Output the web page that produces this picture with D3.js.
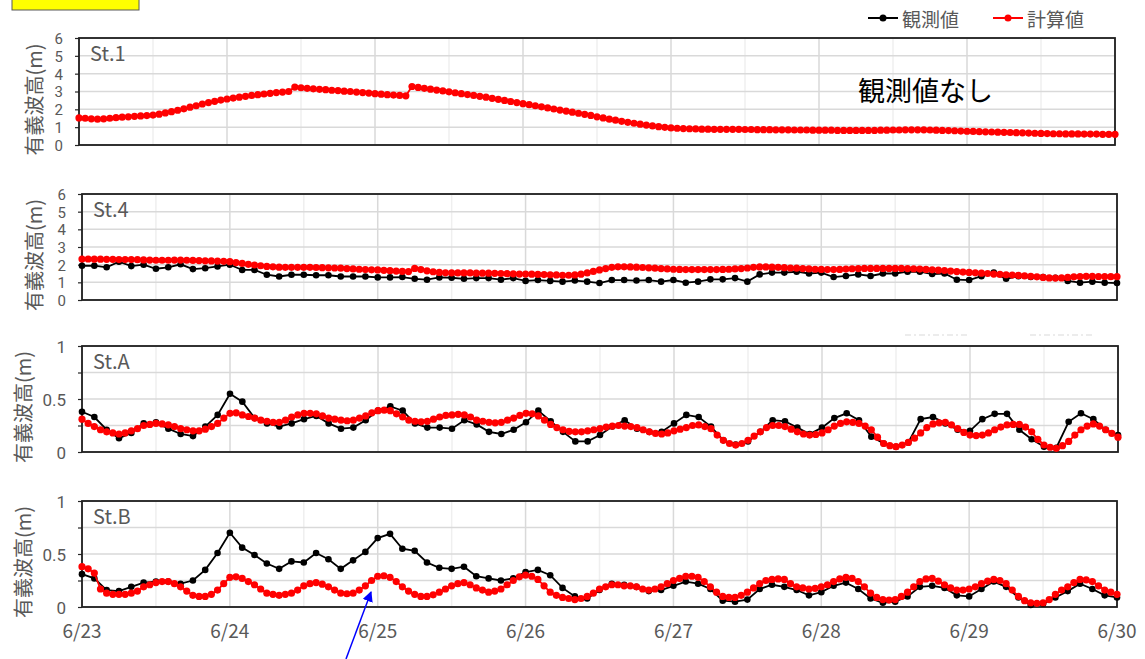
<!DOCTYPE html>
<html><head><meta charset="utf-8">
<script src="https://cdn.jsdelivr.net/npm/d3@7/dist/d3.min.js"></script>
<style>body{margin:0;background:#fff}svg{display:block}text{font-family:"Noto Sans CJK JP","Noto Sans",sans-serif}</style>
</head><body><svg id="c" width="1145" height="659"></svg>
<script>
// ---- data ----
const startTime = new Date(2020, 5, 23, 0, 0);
const endTime = new Date(2020, 5, 30, 0, 0);
const dayTickLabels = ["6/23","6/24","6/25","6/26","6/27","6/28","6/29","6/30"];
const seriesNames = ["観測値","計算値"];
const stationNames = ["St.1","St.4","St.A","St.B"];
const calcStepHours = 1;
const obsStepHours = 2;

const st1Calc = [1.52,1.50,1.47,1.45,1.47,1.50,1.53,1.56,1.58,1.61,1.63,1.65,
1.68,1.73,1.80,1.87,1.95,2.03,2.12,2.20,2.30,2.38,2.45,2.52,
2.58,2.63,2.68,2.73,2.78,2.82,2.86,2.90,2.94,2.97,3.00,3.25,
3.21,3.18,3.15,3.12,3.10,3.07,3.05,3.02,3.00,2.97,2.94,2.91,2.88,2.85,2.82,2.80,2.78,2.76,
3.28,3.23,3.18,3.13,3.08,3.03,2.98,2.93,2.88,2.83,2.78,2.73,2.68,2.62,2.56,2.50,2.44,2.38,
2.32,2.26,2.20,2.14,2.08,2.02,1.96,1.90,1.84,1.78,1.72,1.66,
1.58,1.52,1.45,1.39,1.33,1.27,1.22,1.17,1.12,1.07,1.03,0.99,
0.96,0.94,0.92,0.91,0.90,0.89,0.89,0.88,0.88,0.88,0.88,0.88,
0.87,0.87,0.86,0.86,0.86,0.85,0.85,0.85,0.84,0.84,0.84,0.83,
0.83,0.83,0.83,0.82,0.82,0.82,0.82,0.82,0.82,0.82,0.83,0.83,
0.84,0.84,0.85,0.85,0.85,0.85,0.84,0.83,0.82,0.81,0.80,0.78,
0.77,0.76,0.75,0.74,0.73,0.72,0.71,0.70,0.69,0.68,0.67,0.66,
0.65,0.64,0.63,0.63,0.62,0.62,0.62,0.61,0.61,0.61,0.60,0.60,0.60];

const st4Calc = [2.32,2.32,2.31,2.31,2.30,2.30,2.29,2.29,2.29,2.28,2.27,2.26,
2.25,2.25,2.25,2.26,2.26,2.25,2.24,2.23,2.22,2.21,2.20,2.19,
2.17,2.12,2.07,2.02,1.98,1.94,1.90,1.88,1.86,1.85,1.85,1.85,
1.85,1.85,1.84,1.83,1.82,1.81,1.80,1.78,1.76,1.74,1.72,1.71,
1.70,1.68,1.66,1.64,1.62,1.61,1.79,1.72,1.65,1.60,1.56,1.54,
1.53,1.53,1.53,1.53,1.52,1.52,1.52,1.51,1.50,1.49,1.48,1.47,
1.47,1.46,1.45,1.44,1.43,1.42,1.40,1.40,1.42,1.46,1.53,1.62,
1.70,1.78,1.85,1.88,1.88,1.87,1.86,1.84,1.82,1.80,1.78,1.76,
1.74,1.73,1.72,1.72,1.72,1.72,1.72,1.72,1.73,1.74,1.76,1.78,
1.81,1.85,1.87,1.87,1.86,1.85,1.83,1.81,1.80,1.78,1.76,1.74,
1.73,1.72,1.72,1.73,1.75,1.77,1.78,1.79,1.79,1.79,1.79,1.79,
1.79,1.79,1.78,1.77,1.75,1.73,1.71,1.69,1.67,1.64,1.61,1.58,
1.56,1.54,1.52,1.50,1.47,1.45,1.43,1.41,1.39,1.36,1.34,1.31,
1.28,1.25,1.24,1.25,1.28,1.31,1.33,1.34,1.34,1.33,1.33,1.32,1.32];

const st4Obs = [1.94,1.94,1.85,2.17,1.92,2.00,1.77,1.85,2.02,1.75,1.80,1.90,
2.00,1.70,1.70,1.43,1.33,1.43,1.43,1.40,1.40,1.33,1.33,1.33,
1.28,1.28,1.30,1.20,1.15,1.28,1.26,1.20,1.24,1.24,1.15,1.24,
1.08,1.13,1.08,1.04,1.10,1.04,0.96,1.13,1.13,1.10,1.13,1.04,
1.13,0.98,1.04,1.17,1.17,1.24,1.04,1.45,1.55,1.55,1.60,1.50,
1.55,1.30,1.36,1.45,1.36,1.50,1.50,1.60,1.60,1.47,1.50,1.15,
1.13,1.35,1.55,1.20,1.35,1.30,1.30,1.25,1.08,0.98,1.04,0.98,
0.96];

const stACalc = [0.31,0.27,0.24,0.21,0.19,0.18,0.17,0.18,0.20,0.22,0.25,0.26,
0.27,0.265,0.255,0.24,0.22,0.21,0.20,0.20,0.215,0.24,0.27,0.32,
0.365,0.37,0.35,0.335,0.32,0.30,0.29,0.28,0.28,0.30,0.33,0.35,
0.365,0.365,0.36,0.34,0.32,0.31,0.30,0.295,0.30,0.32,0.34,0.37,
0.39,0.395,0.39,0.36,0.33,0.30,0.29,0.285,0.29,0.31,0.33,0.345,
0.35,0.355,0.35,0.33,0.30,0.29,0.28,0.275,0.28,0.30,0.32,0.345,
0.365,0.36,0.34,0.30,0.26,0.23,0.21,0.195,0.19,0.19,0.20,0.21,
0.22,0.235,0.245,0.25,0.245,0.24,0.23,0.21,0.19,0.175,0.17,0.18,
0.20,0.215,0.23,0.25,0.255,0.24,0.22,0.16,0.11,0.08,0.065,0.08,
0.11,0.15,0.19,0.23,0.25,0.25,0.24,0.215,0.19,0.17,0.16,0.165,
0.18,0.21,0.245,0.27,0.285,0.28,0.27,0.245,0.21,0.14,0.08,0.06,
0.05,0.065,0.09,0.13,0.18,0.23,0.265,0.275,0.28,0.255,0.22,0.185,
0.16,0.155,0.16,0.18,0.21,0.235,0.255,0.26,0.26,0.235,0.19,0.12,
0.066,0.045,0.035,0.06,0.10,0.16,0.21,0.245,0.265,0.245,0.21,0.175,0.14];

const stAObs = [0.38,0.33,0.21,0.13,0.18,0.27,0.28,0.22,0.17,0.15,0.24,0.35,
0.55,0.475,0.32,0.27,0.24,0.27,0.31,0.34,0.27,0.22,0.23,0.30,
0.39,0.43,0.39,0.27,0.23,0.23,0.22,0.30,0.26,0.19,0.17,0.21,
0.28,0.39,0.29,0.19,0.10,0.10,0.16,0.24,0.30,0.22,0.19,0.19,
0.27,0.35,0.33,0.24,0.11,0.07,0.10,0.19,0.30,0.29,0.23,0.17,
0.23,0.32,0.365,0.30,0.145,0.08,0.05,0.09,0.31,0.33,0.27,0.21,
0.20,0.31,0.36,0.36,0.21,0.12,0.05,0.04,0.285,0.365,0.31,0.21,
0.16];

const stBCalc = [0.38,0.36,0.32,0.17,0.13,0.12,0.12,0.12,0.13,0.15,0.19,0.21,
0.23,0.24,0.24,0.22,0.19,0.15,0.11,0.10,0.10,0.12,0.16,0.22,
0.28,0.285,0.27,0.24,0.21,0.17,0.13,0.12,0.11,0.12,0.13,0.16,
0.20,0.22,0.23,0.215,0.19,0.16,0.13,0.125,0.13,0.16,0.20,0.25,
0.29,0.295,0.28,0.24,0.19,0.15,0.12,0.10,0.10,0.115,0.14,0.17,
0.20,0.22,0.23,0.21,0.18,0.16,0.14,0.15,0.17,0.21,0.25,0.285,
0.30,0.29,0.26,0.20,0.14,0.11,0.09,0.08,0.07,0.08,0.10,0.13,
0.17,0.19,0.21,0.21,0.20,0.20,0.19,0.17,0.16,0.17,0.19,0.22,
0.25,0.27,0.29,0.29,0.28,0.24,0.19,0.14,0.10,0.09,0.09,0.11,
0.14,0.18,0.22,0.25,0.26,0.265,0.26,0.22,0.19,0.18,0.17,0.175,
0.19,0.21,0.24,0.265,0.28,0.27,0.24,0.19,0.13,0.09,0.07,0.065,
0.07,0.10,0.14,0.19,0.24,0.265,0.27,0.245,0.21,0.18,0.16,0.16,
0.17,0.19,0.22,0.245,0.26,0.25,0.22,0.16,0.10,0.06,0.04,0.035,
0.04,0.07,0.12,0.16,0.19,0.23,0.26,0.255,0.24,0.20,0.16,0.14,0.12];

const stBObs = [0.31,0.27,0.16,0.15,0.19,0.23,0.24,0.24,0.22,0.25,0.35,0.51,
0.70,0.56,0.49,0.41,0.36,0.43,0.42,0.51,0.45,0.36,0.44,0.52,
0.65,0.69,0.55,0.53,0.42,0.37,0.36,0.38,0.29,0.27,0.25,0.27,
0.33,0.35,0.30,0.18,0.10,0.08,0.16,0.22,0.21,0.19,0.15,0.16,
0.20,0.24,0.22,0.17,0.06,0.05,0.07,0.17,0.21,0.19,0.16,0.11,
0.14,0.20,0.23,0.17,0.08,0.04,0.05,0.10,0.19,0.20,0.18,0.11,
0.10,0.17,0.24,0.19,0.09,0.02,0.03,0.09,0.15,0.22,0.17,0.11,
0.09];

const st1YTicks = [0,1,2,3,4,5,6];
const smallYTicks = [0,0.25,0.5,0.75,1];
const smallYLabels = ["0","","0.5","","1"];
const yTitle = "有義波高(m)";
const noObsNote = "観測値なし";

// ---- drawing ----
const svg = d3.select("#c");
const gray = "#595959";
const panels = [
  {name: stationNames[0], calc: st1Calc, obs: null, top: 38, bottom: 145, left: 79, right: 1115, ymax: 6, ticks: st1YTicks, labels: st1YTicks.map(String), titleX: 33, tickFont: 15},
  {name: stationNames[1], calc: st4Calc, obs: st4Obs, top: 194, bottom: 300, left: 82, right: 1117, ymax: 6, ticks: st1YTicks, labels: st1YTicks.map(String), titleX: 33, tickFont: 15},
  {name: stationNames[2], calc: stACalc, obs: stAObs, top: 346, bottom: 452, left: 82, right: 1118, ymax: 1, ticks: smallYTicks, labels: smallYLabels, titleX: 22, tickFont: 17},
  {name: stationNames[3], calc: stBCalc, obs: stBObs, top: 501, bottom: 607, left: 82, right: 1117, ymax: 1, ticks: smallYTicks, labels: smallYLabels, titleX: 22, tickFont: 17}
];

const hourMs = 3600 * 1000;
const toSeries = (arr, step) => arr.map((v, i) => ({t: new Date(startTime.getTime() + i * step * hourMs), v}));

panels.forEach((p, pi) => {
  const x = d3.scaleTime().domain([startTime, endTime]).range([p.left, p.right]);
  const y = d3.scaleLinear().domain([0, p.ymax]).range([p.bottom, p.top]);
  const g = svg.append("g");

  // vertical gridlines every 12h
  const halfDays = d3.timeHour.every(12).range(startTime, d3.timeHour.offset(endTime, 1));
  g.selectAll(".vg").data(halfDays).join("line")
    .attr("x1", d => x(d)).attr("x2", d => x(d))
    .attr("y1", p.top).attr("y2", p.bottom)
    .attr("stroke", d => d.getHours() === 0 ? "#d9d9d9" : "#efefef")
    .attr("stroke-width", 1.5);
  // horizontal gridlines
  g.selectAll(".hg").data(p.ticks).join("line")
    .attr("x1", p.left).attr("x2", p.right)
    .attr("y1", d => y(d)).attr("y2", d => y(d))
    .attr("stroke", "#d9d9d9").attr("stroke-width", 1.5);

  // y axis ticks
  const yAxis = d3.axisLeft(y).tickValues(p.ticks).tickSize(4).tickFormat((d, i) => p.labels[i]);
  const ya = g.append("g").attr("transform", `translate(${p.left},0)`).call(yAxis);
  ya.select(".domain").remove();
  ya.selectAll(".tick line").attr("stroke", "#262626").attr("stroke-width", 1.2);
  ya.selectAll(".tick text").attr("fill", gray).attr("font-size", p.tickFont)
    .attr("x", -16).attr("dy", "0.36em")
    .style("font-family", 'Roboto, "Liberation Sans", sans-serif');

  // frame
  g.append("rect").attr("x", p.left).attr("y", p.top)
    .attr("width", p.right - p.left).attr("height", p.bottom - p.top)
    .attr("fill", "none").attr("stroke", "#1f1f1f").attr("stroke-width", 1.8);

  // y title
  g.append("text")
    .attr("transform", `translate(${p.titleX},${(p.top + p.bottom) / 2 + 8}) rotate(-90)`)
    .attr("text-anchor", "middle").attr("dominant-baseline", "central")
    .attr("fill", gray).attr("font-size", 20).text(yTitle);

  // station label
  g.append("text").attr("x", p.left + 11).attr("y", p.top + 23)
    .attr("fill", gray).attr("font-size", 20).text(p.name);

  const line = d3.line().x(d => x(d.t)).y(d => y(d.v));
  if (p.obs) {
    const od = toSeries(p.obs, obsStepHours);
    g.append("path").datum(od).attr("d", line).attr("fill", "none")
      .attr("stroke", "#000").attr("stroke-width", 1.8);
    g.selectAll(".od").data(od).join("circle")
      .attr("cx", d => x(d.t)).attr("cy", d => y(d.v)).attr("r", 3.3).attr("fill", "#000");
  }
  const cd = toSeries(p.calc, calcStepHours);
  g.append("path").datum(cd).attr("d", line).attr("fill", "none")
    .attr("stroke", "#ff0000").attr("stroke-width", 1.8);
  g.selectAll(".cd").data(cd).join("circle")
    .attr("cx", d => x(d.t)).attr("cy", d => y(d.v)).attr("r", 3.6).attr("fill", "#ff0000");

  if (pi === panels.length - 1) {
    const days = d3.timeDay.range(startTime, d3.timeHour.offset(endTime, 1));
    g.selectAll(".xl").data(days).join("text")
      .attr("x", d => x(d)).attr("y", 638).attr("text-anchor", "middle")
      .attr("fill", gray).attr("font-size", 19)
      .text((d, i) => dayTickLabels[i]);
  }
});

// note in St.1
svg.append("text").attr("x", 858).attr("y", 101).attr("font-size", 27)
  .attr("fill", "#000").text(noObsNote);

// legend
const legend = svg.append("g");
[[868, "#000", seriesNames[0]], [993, "#ff0000", seriesNames[1]]].forEach(([lx, col, name]) => {
  legend.append("line").attr("x1", lx).attr("x2", lx + 30).attr("y1", 18).attr("y2", 18)
    .attr("stroke", col).attr("stroke-width", 2);
  legend.append("circle").attr("cx", lx + 15).attr("cy", 18).attr("r", 3.5).attr("fill", col);
  legend.append("text").attr("x", lx + 34).attr("y", 18).attr("dominant-baseline", "central")
    .attr("fill", gray).attr("font-size", 19).text(name);
});

// faint remnants of a hidden legend
[[905, 970], [1030, 1093]].forEach(([a, b]) => {
  svg.append("line").attr("x1", a).attr("x2", b).attr("y1", 335).attr("y2", 335)
    .attr("stroke", "#e6e6e6").attr("stroke-width", 1.5).attr("stroke-dasharray", "6,3,2,3");
});

// yellow box at top-left
svg.append("rect").attr("x", 12).attr("y", -2).attr("width", 127).attr("height", 12)
  .attr("fill", "#ffff00").attr("stroke", "#595959").attr("stroke-width", 1);

// blue arrow
const defs = svg.append("defs");
defs.append("marker").attr("id", "ah").attr("viewBox", "0 0 10 10").attr("refX", 9).attr("refY", 5)
  .attr("markerWidth", 7).attr("markerHeight", 7).attr("orient", "auto-start-reverse")
  .append("path").attr("d", "M0,0 L10,5 L0,10 z").attr("fill", "#0000ff");
svg.append("line").attr("x1", 346).attr("y1", 659).attr("x2", 371).attr("y2", 592)
  .attr("stroke", "#0000ff").attr("stroke-width", 1.5).attr("marker-end", "url(#ah)");
</script></body></html>
